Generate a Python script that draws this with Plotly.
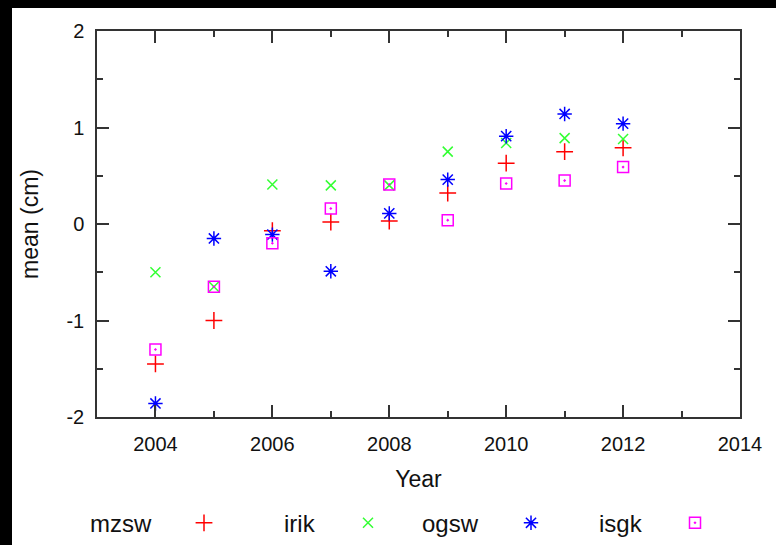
import plotly.graph_objects as go

# Yearly means per station (cm)
years = [2004, 2005, 2006, 2007, 2008, 2009, 2010, 2011, 2012]
mzsw = [-1.45, -1.00, -0.07, 0.02, 0.03, 0.32, 0.63, 0.75, 0.79]
irik = [-0.50, -0.65, 0.41, 0.40, 0.40, 0.75, 0.84, 0.89, 0.88]
ogsw = [-1.86, -0.15, -0.11, -0.49, 0.11, 0.46, 0.91, 1.14, 1.04]
isgk = [-1.30, -0.65, -0.20, 0.16, 0.41, 0.04, 0.42, 0.45, 0.59]

# y tick labels written with a plain hyphen
y_tickvals = [-2, -1, 0, 1, 2]
y_ticktext = ["-2", "-1", "0", "1", "2"]

series = [
    ("mzsw", mzsw, "cross-thin", "#ff0000", 12),
    ("irik", irik, "x-thin", "#33ff33", 10),
    ("ogsw", ogsw, "asterisk", "#0000ff", 12),
    ("isgk", isgk, "square-open-dot", "#ff00ff", 11),
]

FONT = "Liberation Sans, Arial, Helvetica, sans-serif"
AXIS_COLOR = "#333333"

# plot-area geometry in pixels (used to place the key)
W, H = 776, 545
ML, MR, MT, MB = 97, 36, 31, 128
PW = W - ML - MR
PH = H - MT - MB

# key: label to the left of each sample symbol, one small legend per series
key_x = [204, 368, 531, 695]
key_y_px = 523
key_y = (H - MB - key_y_px) / PH
legend_ids = ["legend", "legend2", "legend3", "legend4"]

fig = go.Figure()
for (name, vals, sym, col, size), lid in zip(series, legend_ids):
    fig.add_trace(go.Scatter(
        x=years, y=vals, mode="markers", name=" ", legend=lid,
        marker=dict(symbol=sym, size=size, color=col,
                    line=dict(color=col, width=1.5)),
        hovertemplate=name + ": %{x}, %{y:.2f}<extra></extra>",
    ))

legend_layout = {}
for (name, *_), sx, lid in zip(series, key_x, legend_ids):
    fig.add_annotation(
        x=(sx - 50 - ML) / PW, y=key_y, xref="paper", yref="paper",
        text=name, showarrow=False, xanchor="right", yanchor="middle",
        font=dict(size=24, color="#111111", family=FONT),
    )
    legend_layout[lid] = dict(
        x=(sx - 20 - ML) / PW, xanchor="left", y=key_y, yanchor="middle",
        bgcolor="rgba(0,0,0,0)", borderwidth=0, itemwidth=30,
        font=dict(size=22, family=FONT),
    )

# black frame strips along the top and left edges of the page
fig.add_shape(type="rect", xref="paper", yref="paper", layer="above",
              x0=(0 - ML - 5) / PW, x1=(12 - ML) / PW, y0=-1, y1=2,
              fillcolor="black", line_width=0)
fig.add_shape(type="rect", xref="paper", yref="paper", layer="above",
              x0=-1, x1=2, y0=(H - MB - 8) / PH, y1=(H - MB + 5) / PH,
              fillcolor="black", line_width=0)

axis_common = dict(
    showgrid=False, zeroline=False, showline=True, linecolor=AXIS_COLOR,
    linewidth=1.5, mirror="ticks", ticks="inside", ticklen=12,
    tickwidth=1.5, tickcolor=AXIS_COLOR,
    tickfont=dict(size=20, color="#111111", family=FONT),
)

fig.update_xaxes(
    range=[2003, 2014], tick0=2004, dtick=2,
    minor=dict(dtick=1, tick0=2003, ticks="inside", ticklen=6,
               tickwidth=1.5, tickcolor=AXIS_COLOR),
    title=dict(text="Year", font=dict(size=23, color="#111111", family=FONT),
               standoff=17),
    ticklabelstandoff=8,
    **axis_common,
)
fig.update_yaxes(
    range=[-2, 2], tickmode="array", tickvals=y_tickvals, ticktext=y_ticktext,
    minor=dict(dtick=0.5, tick0=-2, ticks="inside", ticklen=6,
               tickwidth=1.5, tickcolor=AXIS_COLOR),
    title=dict(text="mean (cm)", font=dict(size=23, color="#111111", family=FONT),
               standoff=21),
    ticklabelstandoff=7,
    **axis_common,
)

fig.update_layout(
    width=W, height=H,
    margin=dict(l=ML, r=MR, t=MT, b=MB, autoexpand=False),
    paper_bgcolor="white", plot_bgcolor="white",
    font=dict(family=FONT, color="#111111"),
    showlegend=True,
    **legend_layout,
)

fig.write_html("out.html")
